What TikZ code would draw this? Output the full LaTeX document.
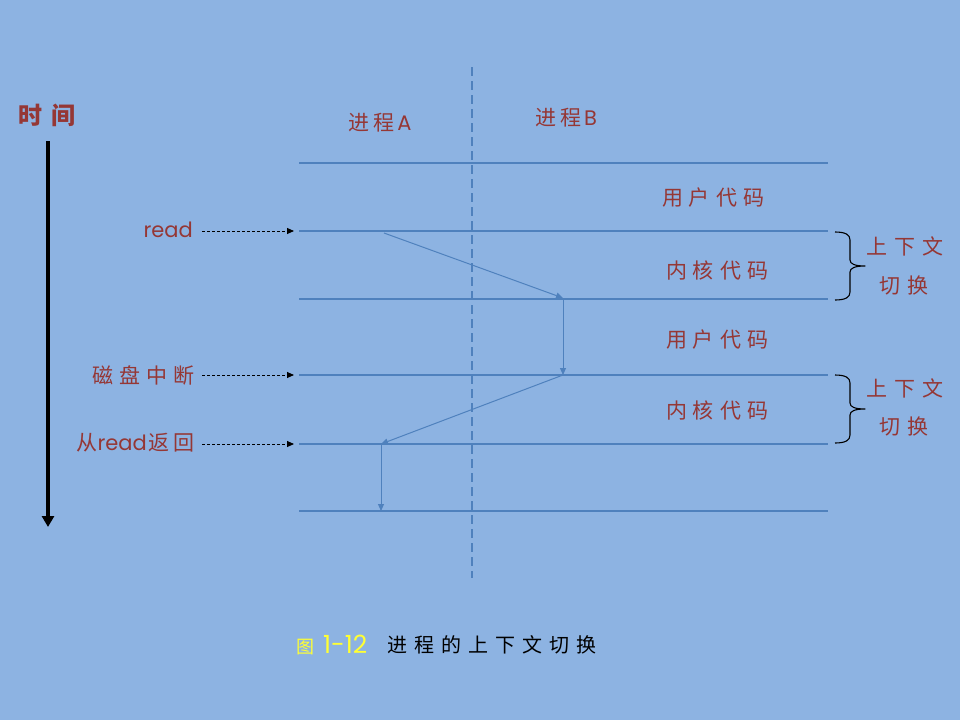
\documentclass[tikz,border=0pt]{standalone}
\usepackage{fontspec}
\setmainfont{Poppins}
\newfontfamily\cjk{Noto Sans CJK SC}
\usetikzlibrary{arrows.meta}
\definecolor{bgblue}{HTML}{8DB3E2}
\definecolor{lineblue}{HTML}{4F81BD}
\definecolor{txtred}{HTML}{953735}
\definecolor{capyellow}{HTML}{FFFF33}
\newcommand{\gp}{\hspace{6pt}}
\tikzset{
  lbl/.style={text=txtred, inner sep=0pt, font=\cjk\fontsize{21}{24}\selectfont},
  hline/.style={draw=lineblue, line width=2pt},
  flow/.style={draw=lineblue, line width=1pt, -{Triangle[length=7pt,width=6pt]}},
  dasharrow/.style={draw=black, line width=0.9pt, dash pattern=on 3pt off 2pt, -{Triangle[length=7pt,width=6pt]}},
  bracestyle/.style={draw=black, line width=1.1pt, line join=round}
}
\begin{document}
\begin{tikzpicture}[x=1pt,y=-1pt]
\fill[bgblue] (0,0) rectangle (960,720);
\useasboundingbox (0,0) rectangle (960,720);

% time axis
\node[lbl, font=\cjk\bfseries\fontsize{24}{26}\selectfont] (time) at (47,115) {时\hspace{9pt}间};
\coordinate (ta) at (48,141);
\coordinate (tb) at (48,527);
\draw[line width=4pt, -{Triangle[length=11pt,width=12pt]}] (ta) -- (tb);

% dashed divider
\coordinate (da) at (472,67);
\coordinate (db) at (472,578);
\draw[lineblue, line width=1.6pt, dash pattern=on 9pt off 5pt] (da) -- (db);

% horizontal lines
\foreach \i/\y in {1/163,2/231,3/299,4/375,5/444,6/511}{
  \coordinate (L\i a) at (299,\y);
  \coordinate (L\i b) at (828,\y);
  \draw[hline] (L\i a) -- (L\i b);
}

% process headers
\node[lbl] (pa) at (380,123) {进\hspace{4pt}程\hspace{3pt}\fontspec{Poppins}A};
\node[lbl] (pb) at (566,118) {进\hspace{4pt}程\hspace{3pt}\fontspec{Poppins}B};

% region labels
\node[lbl] (u1) at (713,198) {用\gp 户\gp 代\gp 码};
\node[lbl] (k1) at (717,270) {内\gp 核\gp 代\gp 码};
\node[lbl] (u2) at (717,340) {用\gp 户\gp 代\gp 码};
\node[lbl] (k2) at (717,410) {内\gp 核\gp 代\gp 码};

% braces
\foreach \t/\m/\b in {232/266/300, 375/409/443}{
  \draw[bracestyle] (835,\t) .. controls (846,\t) and (850,{\t+3}) .. (850,{\t+8})
    -- (850,{\m-6}) .. controls (850,{\m-2}) and (855,\m) .. (865,\m)
    .. controls (855,\m) and (850,{\m+2}) .. (850,{\m+6})
    -- (850,{\b-8}) .. controls (850,{\b-3}) and (846,\b) .. (835,\b);
}
\node[lbl] (c1) at (905,246) {上\hspace{7pt}下\hspace{7pt}文};
\node[lbl] (c2) at (904,286) {切\hspace{7pt}换};
\node[lbl] (c3) at (905,388) {上\hspace{7pt}下\hspace{7pt}文};
\node[lbl] (c4) at (904,427) {切\hspace{7pt}换};

% left event labels
\node[lbl, anchor=east, font=\fontsize{21}{24}\selectfont] (ev1) at (193,230) {read};
\node[lbl, anchor=east] (ev2) at (195,375) {磁\gp 盘\gp 中\gp 断};
\node[lbl, anchor=east] (ev3) at (195,443) {从{\fontspec{Poppins}\fontsize{21}{24}\selectfont read}\hspace{2pt}返\hspace{4pt}回};
\coordinate (e1a) at (202,231);
\coordinate (e1b) at (294,231);
\coordinate (e2a) at (202,375);
\coordinate (e2b) at (294,375);
\coordinate (e3a) at (202,444);
\coordinate (e3b) at (294,444);
\draw[dasharrow] (e1a) -- (e1b);
\draw[dasharrow] (e2a) -- (e2b);
\draw[dasharrow] (e3a) -- (e3b);

% flow of control
\coordinate (f1) at (384,233);
\coordinate (f2) at (563,298);
\coordinate (f3) at (563,375);
\coordinate (f4) at (381,444);
\coordinate (f5) at (381,511);
\draw[flow] (f1) -- (f2);
\draw[flow] (f2) -- (f3);
\draw[flow] (f3) -- (f4);
\draw[flow] (f4) -- (f5);

% caption
\node[inner sep=0pt, anchor=west, text=capyellow, font=\cjk\fontsize{18}{22}\selectfont] (cap1) at (296,645) {图\hspace{9pt}{\fontspec{Poppins}\fontsize{25}{28}\selectfont 1-12}};
\node[inner sep=0pt, anchor=west, text=black, font=\cjk\fontsize{20}{22}\selectfont] (cap2) at (387,645) {进\hspace{7pt}程\hspace{7pt}的\hspace{7pt}上\hspace{7pt}下\hspace{7pt}文\hspace{7pt}切\hspace{7pt}换};
\end{tikzpicture}
\end{document}
